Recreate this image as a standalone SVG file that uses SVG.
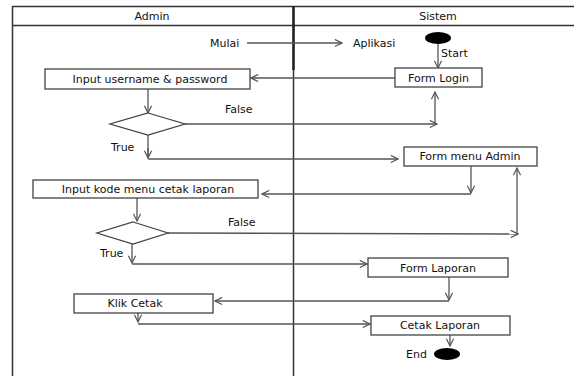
<svg xmlns="http://www.w3.org/2000/svg" width="574" height="376" viewBox="0 0 574 376">
<style>
text{font-family:"DejaVu Sans","Liberation Sans",sans-serif;font-size:11px;fill:#111}
.c{text-anchor:middle}
.box{fill:#fff;stroke:#444;stroke-width:1.3}
.ln{fill:none;stroke:#555;stroke-width:1.3}
.lane{fill:none;stroke:#333;stroke-width:1.5}
</style>
<defs>
<marker id="a" viewBox="0 0 10 10" refX="9" refY="5" markerWidth="9" markerHeight="9" markerUnits="userSpaceOnUse" orient="auto">
<path d="M1,1 L9,5 L1,9" fill="none" stroke="#555" stroke-width="1.3"/>
</marker>
</defs>
<g id="lanes">
<line class="lane" x1="12" y1="6.5" x2="574" y2="6.5" stroke="#888"/>
<line class="lane" x1="12" y1="25.5" x2="574" y2="25.5" stroke="#888"/>
<line class="lane" x1="12.5" y1="6" x2="12.5" y2="376"/>
<line class="lane" x1="293.5" y1="6" x2="293.5" y2="376"/>
<line x1="293.5" y1="6" x2="293.5" y2="70" stroke="#222" stroke-width="2.5"/>
<text class="c" x="152" y="20">Admin</text>
<text class="c" x="438" y="20">Sistem</text>
</g>
<g id="connectors">
<line class="ln" x1="247" y1="43" x2="342" y2="43" marker-end="url(#a)"/>
<line class="ln" x1="438" y1="43" x2="438" y2="68" marker-end="url(#a)"/>
<line class="ln" x1="395" y1="78" x2="251" y2="78" marker-end="url(#a)"/>
<line class="ln" x1="148" y1="89" x2="148" y2="113" marker-end="url(#a)"/>
<polyline class="ln" points="185,124 435,124 435,92" marker-end="url(#a)"/>
<line class="ln" x1="435" y1="124" x2="437" y2="124" marker-end="url(#a)"/>
<polyline class="ln" points="148,135 148,158"/>
<line class="ln" x1="148" y1="148" x2="148" y2="158" marker-end="url(#a)"/>
<line class="ln" x1="148" y1="159" x2="398" y2="159" marker-end="url(#a)"/>
<line class="ln" x1="471" y1="166" x2="471" y2="193" marker-end="url(#a)"/>
<line class="ln" x1="471" y1="194" x2="262" y2="194" marker-end="url(#a)"/>
<line class="ln" x1="137" y1="198" x2="137" y2="221" marker-end="url(#a)"/>
<line class="ln" x1="168" y1="233" x2="518" y2="234" marker-end="url(#a)"/>
<line class="ln" x1="517" y1="234" x2="517" y2="168" marker-end="url(#a)"/>
<line class="ln" x1="132" y1="244" x2="132" y2="263" marker-end="url(#a)"/>
<line class="ln" x1="132" y1="264" x2="367" y2="264" marker-end="url(#a)"/>
<line class="ln" x1="449" y1="277" x2="449" y2="300" marker-end="url(#a)"/>
<line class="ln" x1="449" y1="301" x2="215" y2="301" marker-end="url(#a)"/>
<line class="ln" x1="138" y1="313" x2="138" y2="322" marker-end="url(#a)"/>
<line class="ln" x1="138" y1="324" x2="370" y2="324" marker-end="url(#a)"/>
<line class="ln" x1="450" y1="335" x2="450" y2="346" marker-end="url(#a)"/>
</g>
<g id="mulai"><text x="210" y="47">Mulai</text></g>
<g id="aplikasi"><text x="353" y="47">Aplikasi</text></g>
<g id="start"><ellipse cx="438" cy="38" rx="13" ry="6" fill="#000"/><text x="441" y="57">Start</text></g>
<g id="form-login"><rect class="box" x="395" y="68" width="87" height="19"/><text class="c" x="438.5" y="82">Form Login</text></g>
<g id="input-username"><rect class="box" x="45" y="69" width="205" height="20"/><text class="c" x="150" y="83">Input username &amp; password</text></g>
<g id="decision1"><polygon class="box" points="148,113 185,124 148,135 110,124"/><text x="225" y="113">False</text><text x="111" y="151">True</text></g>
<g id="form-menu-admin"><rect class="box" x="404" y="147" width="133" height="19"/><text class="c" x="470" y="160">Form menu Admin</text></g>
<g id="input-kode"><rect class="box" x="33" y="180" width="225" height="18"/><text class="c" x="148" y="193">Input kode menu cetak laporan</text></g>
<g id="decision2"><polygon class="box" points="133,222 168,233 133,244 97,233"/><text x="228" y="226">False</text><text x="100" y="257">True</text></g>
<g id="form-laporan"><rect class="box" x="368" y="258" width="140" height="19"/><text class="c" x="438" y="272">Form Laporan</text></g>
<g id="klik-cetak"><rect class="box" x="74" y="294" width="139" height="19"/><text class="c" x="135" y="307">Klik Cetak</text></g>
<g id="cetak-laporan"><rect class="box" x="371" y="316" width="139" height="19"/><text class="c" x="440" y="329">Cetak Laporan</text></g>
<g id="end"><ellipse cx="447" cy="354" rx="13" ry="6" fill="#000"/><text x="406" y="358">End</text></g>
</svg>
